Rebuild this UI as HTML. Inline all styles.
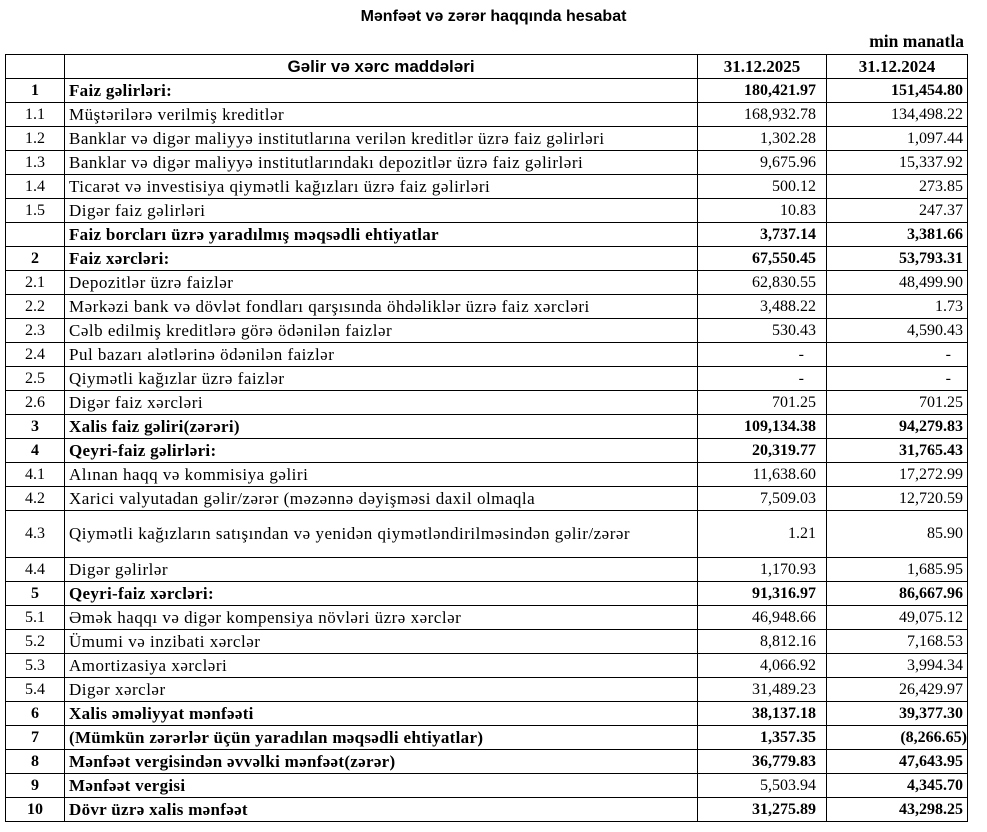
<!DOCTYPE html>
<html><head><meta charset="utf-8"><style>
body{margin:0;background:#fff;width:987px;height:832px;overflow:hidden;position:relative;font-family:"Liberation Serif",serif;}
.title{position:absolute;top:8px;left:0;width:987px;text-align:center;font:bold 16px "Liberation Sans",sans-serif;}
.unit{position:absolute;top:31px;right:23px;font:bold 17.5px "Liberation Serif",serif;}
table{position:absolute;left:5px;top:54px;border-collapse:collapse;table-layout:fixed;width:962px;font-size:15.5px;}
td{border:1.6px solid #000;height:23px;padding:0 4px;white-space:nowrap;overflow:hidden;line-height:20px;}
td:nth-child(1){text-align:center;font-size:16px;}
td:nth-child(2){font-size:17px;letter-spacing:0.5px;}
td:nth-child(3),td:nth-child(4){text-align:right;font-size:16px;}
td:nth-child(3){padding-right:10px;}
tr.b td{font-weight:bold;}
tr.b td:nth-child(2){letter-spacing:0.3px;}
tr.h td{font-family:"Liberation Sans",sans-serif;font-weight:bold;text-align:center;font-size:17px;letter-spacing:0;}
tr.h td:nth-child(3),tr.h td:nth-child(4){font-family:"Liberation Serif",serif;font-size:17px;padding-right:4px;}
tr.t td{height:46px;}
</style></head><body>
<div class="title">Mənfəət və zərər haqqında hesabat</div>
<div class="unit">min manatla</div>
<table>
<colgroup><col style="width:59px"><col style="width:633px"><col style="width:129px"><col style="width:141px"></colgroup>
<tr class="h"><td></td><td>Gəlir və xərc maddələri</td><td>31.12.2025</td><td>31.12.2024</td></tr>
<tr class="b"><td>1</td><td>Faiz gəlirləri:</td><td>180,421.97</td><td>151,454.80</td></tr>
<tr><td>1.1</td><td>Müştərilərə verilmiş kreditlər</td><td>168,932.78</td><td>134,498.22</td></tr>
<tr><td>1.2</td><td>Banklar və digər maliyyə institutlarına verilən kreditlər üzrə faiz gəlirləri</td><td>1,302.28</td><td>1,097.44</td></tr>
<tr><td>1.3</td><td>Banklar və digər maliyyə institutlarındakı depozitlər üzrə faiz gəlirləri</td><td>9,675.96</td><td>15,337.92</td></tr>
<tr><td>1.4</td><td>Ticarət və investisiya qiymətli kağızları üzrə faiz gəlirləri</td><td>500.12</td><td>273.85</td></tr>
<tr><td>1.5</td><td>Digər faiz gəlirləri</td><td>10.83</td><td>247.37</td></tr>
<tr class="b"><td></td><td>Faiz borcları üzrə yaradılmış məqsədli ehtiyatlar</td><td>3,737.14</td><td>3,381.66</td></tr>
<tr class="b"><td>2</td><td>Faiz xərcləri:</td><td>67,550.45</td><td>53,793.31</td></tr>
<tr><td>2.1</td><td>Depozitlər üzrə faizlər</td><td>62,830.55</td><td>48,499.90</td></tr>
<tr><td>2.2</td><td>Mərkəzi bank və dövlət fondları qarşısında öhdəliklər üzrə faiz xərcləri</td><td>3,488.22</td><td>1.73</td></tr>
<tr><td>2.3</td><td>Cəlb edilmiş kreditlərə görə ödənilən faizlər</td><td>530.43</td><td>4,590.43</td></tr>
<tr><td>2.4</td><td>Pul bazarı alətlərinə ödənilən faizlər</td><td>-&nbsp;&nbsp;&nbsp;</td><td>-&nbsp;&nbsp;&nbsp;</td></tr>
<tr><td>2.5</td><td>Qiymətli kağızlar üzrə faizlər</td><td>-&nbsp;&nbsp;&nbsp;</td><td>-&nbsp;&nbsp;&nbsp;</td></tr>
<tr><td>2.6</td><td>Digər faiz xərcləri</td><td>701.25</td><td>701.25</td></tr>
<tr class="b"><td>3</td><td>Xalis faiz gəliri(zərəri)</td><td>109,134.38</td><td>94,279.83</td></tr>
<tr class="b"><td>4</td><td>Qeyri-faiz gəlirləri:</td><td>20,319.77</td><td>31,765.43</td></tr>
<tr><td>4.1</td><td>Alınan haqq və kommisiya gəliri</td><td>11,638.60</td><td>17,272.99</td></tr>
<tr><td>4.2</td><td>Xarici valyutadan gəlir/zərər (məzənnə dəyişməsi daxil olmaqla</td><td>7,509.03</td><td>12,720.59</td></tr>
<tr class="t"><td>4.3</td><td>Qiymətli kağızların satışından və yenidən qiymətləndirilməsindən gəlir/zərər</td><td>1.21</td><td>85.90</td></tr>
<tr><td>4.4</td><td>Digər gəlirlər</td><td>1,170.93</td><td>1,685.95</td></tr>
<tr class="b"><td>5</td><td>Qeyri-faiz xərcləri:</td><td>91,316.97</td><td>86,667.96</td></tr>
<tr><td>5.1</td><td>Əmək haqqı və digər kompensiya növləri üzrə xərclər</td><td>46,948.66</td><td>49,075.12</td></tr>
<tr><td>5.2</td><td>Ümumi və inzibati xərclər</td><td>8,812.16</td><td>7,168.53</td></tr>
<tr><td>5.3</td><td>Amortizasiya xərcləri</td><td>4,066.92</td><td>3,994.34</td></tr>
<tr><td>5.4</td><td>Digər xərclər</td><td>31,489.23</td><td>26,429.97</td></tr>
<tr class="b"><td>6</td><td>Xalis əməliyyat mənfəəti</td><td>38,137.18</td><td>39,377.30</td></tr>
<tr class="b"><td>7</td><td>(Mümkün zərərlər üçün yaradılan məqsədli ehtiyatlar)</td><td>1,357.35</td><td style="padding-right:0">(8,266.65)</td></tr>
<tr class="b"><td>8</td><td>Mənfəət vergisindən əvvəlki mənfəət(zərər)</td><td>36,779.83</td><td>47,643.95</td></tr>
<tr class="b"><td>9</td><td>Mənfəət vergisi</td><td style="font-weight:normal">5,503.94</td><td>4,345.70</td></tr>
<tr class="b"><td>10</td><td>Dövr üzrə xalis mənfəət</td><td>31,275.89</td><td>43,298.25</td></tr>
</table>
</body></html>
